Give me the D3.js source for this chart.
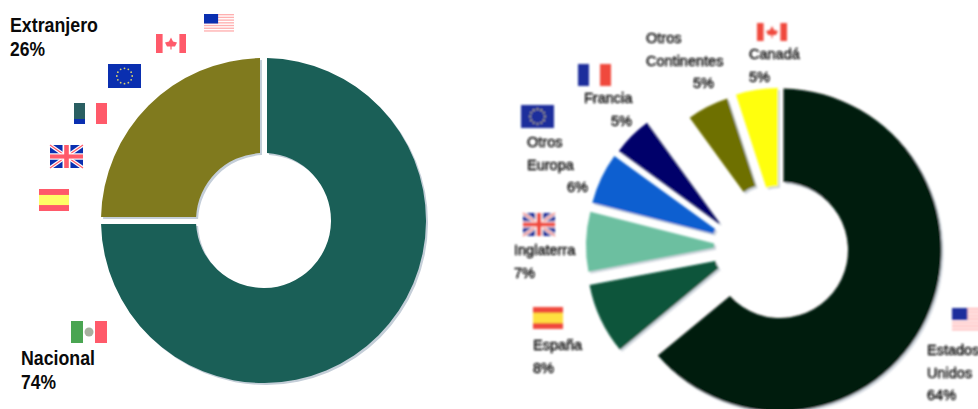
<!DOCTYPE html>
<html>
<head>
<meta charset="utf-8">
<script src="https://cdn.jsdelivr.net/npm/d3@7"></script>
<style>
html, body { margin: 0; padding: 0; background: #fff; overflow: hidden; }
svg { display: block; }
text { font-family: "Liberation Sans", Arial, sans-serif; }
</style>
</head>
<body>
<div id="chart"></div>
<script>
// left donut: printed shares, and the sweep the drawing really uses (a clean 3/4 + 1/4)
var leftNames = ['Nacional', 'Extranjero'];
var leftValues = [74, 26];
var leftSweeps = [75, 25];
var leftColors = ['#1a5f57', '#807a1e'];

// right donut, clockwise from 12 o'clock
var rightNames = [['Estados', 'Unidos'], ['España'], ['Inglaterra'], ['Otros', 'Europa'], ['Francia'], ['Otros', 'Continentes'], ['Canadá']];
var rightValues = [64, 8, 7, 6, 5, 5, 5];
var rightColors = ['#011a0b', '#07553a', '#6cbfa0', '#0e5fd0', '#00006a', '#6e7000', '#ffff10'];

// where each slice was pulled out to: [cx, cy, inner, outer]
var rightSlices = [
    [780, 250, 68, 161.5],
    [731, 258, 16, 144],
    [724, 246, 10, 138],
    [726, 237, 13, 138],
    [722, 226, 4, 127.5],
    [769, 227, 43, 135],
    [778, 224, 38, 136]
];
// label anchor: [x, first baseline, x of the percent line]
var rightLabelPos = [
    [927, 355, 927],
    [533, 350, 533],
    [514, 255, 514],
    [527, 147, 567],
    [584, 103, 611],
    [646, 43, 693],
    [749, 59, 749]
];

var svg = d3.select('#chart').append('svg')
    .attr('width', 978)
    .attr('height', 409);

var defs = svg.append('defs');
defs.append('filter').attr('id', 'soft')
    .attr('filterUnits', 'userSpaceOnUse')
    .attr('x', 0).attr('y', 0).attr('width', 978).attr('height', 409)
    .append('feGaussianBlur').attr('stdDeviation', 0.8);

var pie = d3.pie().sort(null);

drawLeft();
drawRight();

function drawLeft(){
    var g = svg.append('g');
    var slices = g.append('g').attr('transform', 'translate(263.5,220.5)');
    var arc = d3.arc()
        .innerRadius(67.5)
        .outerRadius(162.5)
        .padRadius(162.5)
        .padAngle(7/162.5);

    slices.selectAll('path.shade')
        .data(pie(leftSweeps))
        .enter()
        .append('path')
        .attr('class', 'shade')
        .attr('transform', 'translate(2,2)')
        .attr('fill', '#c4ced8')
        .attr('d', arc);

    slices.selectAll('path.slice')
        .data(pie(leftSweeps))
        .enter()
        .append('path')
        .attr('class', 'slice')
        .attr('fill', function(d, i){ return leftColors[i]; })
        .attr('d', arc);

    label(g, leftNames[1], leftValues[1], 10, 32, 88);
    label(g, leftNames[0], leftValues[0], 21, 365, 74);

    var pal = {red: '#ff5a6a', blue: '#0a2fb0', yellow: '#ffff66'};
    flag(g, 'usa', 204, 14, 30, 19, pal);
    flag(g, 'canada', 156, 34, 30, 19, pal);
    flag(g, 'eu', 108, 64, 33, 24, pal);
    var fr = flag(g, 'france', 74, 103, 33, 21, pal);
    // the blue band of this one prints mostly green
    fr.append('rect').attr('width', 11).attr('height', 16).attr('fill', '#2a5f62');
    flag(g, 'uk', 50, 145, 33, 23, pal);
    flag(g, 'spain', 39, 189, 30, 22, pal);
    flag(g, 'mexico', 71, 321, 36, 22, pal);
}

function label(g, name, value, x, y, nameWidth){
    var t = g.append('text')
        .attr('font-size', 20)
        .attr('font-weight', 'bold')
        .attr('fill', '#0a0a0a');
    t.append('tspan')
        .attr('x', x).attr('y', y)
        .attr('textLength', nameWidth)
        .attr('lengthAdjust', 'spacingAndGlyphs')
        .text(name);
    t.append('tspan')
        .attr('x', x).attr('y', y + 24)
        .attr('textLength', 35)
        .attr('lengthAdjust', 'spacingAndGlyphs')
        .text(value + '%');
}

function drawRight(){
    var g = svg.append('g').attr('filter', 'url(#soft)');
    var arcs = pie(rightValues);

    var arc = d3.arc()
        .innerRadius(function(d, i){ return d.inner; })
        .outerRadius(function(d){ return d.outer; })
        .padRadius(161.5)
        .padAngle(function(d){ return d.pad; });

    arcs.forEach(function(a, i){
        a.inner = rightSlices[i][2];
        a.outer = rightSlices[i][3];
        a.pad = i == 0 ? 7/161.5 : 0;
    });

    g.selectAll('path.shade')
        .data(arcs)
        .enter()
        .append('path')
        .attr('class', 'shade')
        .attr('transform', function(d, i){
            return 'translate(' + (rightSlices[i][0]+2) + ',' + (rightSlices[i][1]+2) + ')';
        })
        .attr('fill', '#d0d6de')
        .attr('d', arc);

    g.selectAll('path.slice')
        .data(arcs)
        .enter()
        .append('path')
        .attr('class', 'slice')
        .attr('transform', function(d, i){
            return 'translate(' + rightSlices[i][0] + ',' + rightSlices[i][1] + ')';
        })
        .attr('fill', function(d, i){ return rightColors[i]; })
        .attr('d', arc);

    rightNames.forEach(function(lines, i){
        var pos = rightLabelPos[i];
        var t = g.append('text')
            .attr('font-size', 14.5)
            .attr('fill', '#111')
            .attr('stroke', '#111')
            .attr('stroke-width', 0.5);
        lines.forEach(function(line, j){
            t.append('tspan').attr('x', pos[0]).attr('y', pos[1] + j*23).text(line);
        });
        t.append('tspan').attr('x', pos[2]).attr('y', pos[1] + lines.length*23 - (lines.length > 1 ? 1 : 0)).text(rightValues[i] + '%');
    });

    var pal = {red: '#f04a3c', blue: '#1c2f9c', yellow: '#ffe040'};
    flag(g, 'canada', 757, 23, 30, 18, pal);
    flag(g, 'france', 578, 64, 33, 22, pal);
    flag(g, 'eu', 521, 105, 33, 23, pal);
    flag(g, 'uk', 523, 213, 32, 23, pal);
    flag(g, 'spain', 533, 307, 30, 22, pal);
    flag(g, 'usa', 952, 308, 33, 24, pal);
}

function flag(parent, kind, x, y, w, h, pal){
    var g = parent.append('g').attr('transform', 'translate(' + x + ',' + y + ')');

    function rect(rx, ry, rw, rh, fill){
        g.append('rect').attr('x', rx).attr('y', ry).attr('width', rw).attr('height', rh).attr('fill', fill);
    }
    function line(x1, y1, x2, y2, stroke, width){
        g.append('line').attr('x1', x1).attr('y1', y1).attr('x2', x2).attr('y2', y2)
            .attr('stroke', stroke).attr('stroke-width', width);
    }

    if(kind == 'usa'){
        d3.range(7).forEach(function(i){
            rect(0, i*h/7, w, h/14, '#ffb0b0');
        });
        rect(0, 0, w*0.47, h*0.5, pal.blue);
    }else if(kind == 'canada'){
        rect(0, 0, w*0.22, h, pal.red);
        rect(w*0.78, 0, w*0.22, h, pal.red);
        // maple leaf, near enough at this size
        var cx = w/2, cy = h/2;
        g.append('path')
            .attr('fill', pal.red)
            .attr('d', 'M' + cx + ',' + (cy-6) + 'L' + (cx+2) + ',' + (cy-2) + 'L' + (cx+6) + ',' + (cy-1)
                + 'L' + (cx+4) + ',' + (cy+3) + 'L' + (cx+0.6) + ',' + (cy+3) + 'L' + (cx+0.6) + ',' + (cy+6)
                + 'L' + (cx-0.6) + ',' + (cy+6) + 'L' + (cx-0.6) + ',' + (cy+3) + 'L' + (cx-4) + ',' + (cy+3)
                + 'L' + (cx-6) + ',' + (cy-1) + 'L' + (cx-2) + ',' + (cy-2) + 'Z');
    }else if(kind == 'eu'){
        rect(0, 0, w, h, pal.blue);
        d3.range(12).forEach(function(i){
            var a = i*Math.PI/6;
            g.append('circle')
                .attr('cx', w/2 + Math.cos(a)*h*0.32)
                .attr('cy', h/2 + Math.sin(a)*h*0.32)
                .attr('r', 0.9)
                .attr('fill', '#d8d070');
        });
    }else if(kind == 'france'){
        rect(0, 0, w/3, h, pal.blue);
        rect(w*2/3, 0, w/3, h, pal.red);
    }else if(kind == 'uk'){
        rect(0, 0, w, h, pal.blue);
        line(0, 0, w, h, '#fff', 3.5);
        line(w, 0, 0, h, '#fff', 3.5);
        line(0, 0, w, h, pal.red, 1.2);
        line(w, 0, 0, h, pal.red, 1.2);
        rect(w*0.38, 0, w*0.24, h, '#fff');
        rect(0, h*0.36, w, h*0.28, '#fff');
        rect(w*0.43, 0, w*0.14, h, pal.red);
        rect(0, h*0.41, w, h*0.18, pal.red);
    }else if(kind == 'spain'){
        rect(0, 0, w, h, pal.yellow);
        rect(0, 0, w, h*0.27, pal.red);
        rect(0, h*0.73, w, h*0.27, pal.red);
    }else if(kind == 'mexico'){
        rect(0, 0, w/3, h, '#4aa552');
        rect(w*2/3, 0, w/3, h, pal.red);
        g.append('circle').attr('cx', w/2).attr('cy', h/2).attr('r', 4.5).attr('fill', '#a8b0a0');
    }
    return g;
}
</script>
</body>
</html>
